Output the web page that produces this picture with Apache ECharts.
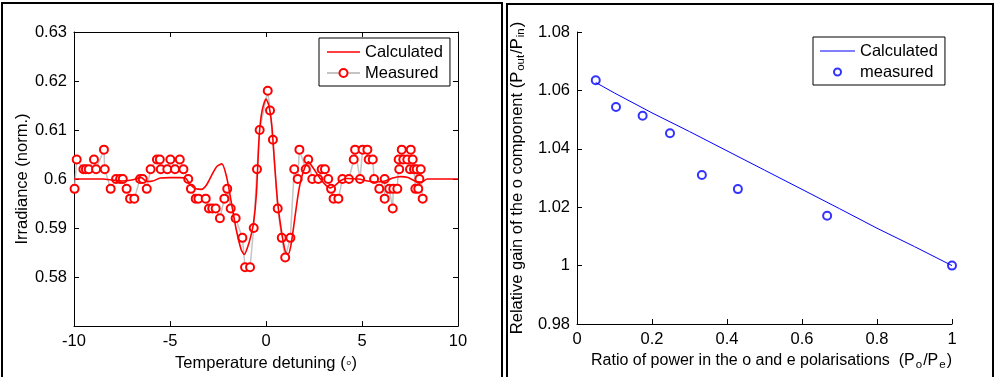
<!DOCTYPE html>
<html>
<head>
<meta charset="utf-8">
<script src="https://cdn.jsdelivr.net/npm/echarts@6/dist/echarts.min.js"></script>
<style>
html,body{margin:0;padding:0;background:#fff;}
#c{width:995px;height:377px;}
</style>
</head>
<body>
<div id="c"></div>
<script>
// ---- Left panel: irradiance vs temperature detuning ----
const measX = [-9.97,-9.86,-9.51,-9.38,-9.23,-8.96,-8.85,-8.44,-8.40,-8.09,-7.81,-7.60,-7.46,-7.26,-7.08,-6.86,-6.56,-6.42,-6.21,-6.01,-5.68,-5.53,-5.48,-5.14,-4.98,-4.74,-4.49,-4.30,-4.05,-3.91,-3.66,-3.52,-3.14,-2.97,-2.80,-2.62,-2.40,-2.17,-2.02,-1.84,-1.58,-1.23,-1.09,-0.83,-0.64,-0.47,-0.33,0.09,0.21,0.36,0.61,0.82,1.00,1.27,1.47,1.65,1.74,2.07,2.20,2.41,2.72,2.90,3.07,3.24,3.39,3.52,3.77,3.98,4.32,4.57,4.64,4.90,5.03,5.28,5.35,5.56,5.63,5.90,6.18,6.18,6.42,6.60,6.63,6.84,6.91,6.94,7.07,7.15,7.36,7.50,7.54,7.64,7.71,7.78,7.85,7.93,7.99,8.06,8.16];
const measY = [0.598,0.604,0.602,0.602,0.602,0.604,0.602,0.606,0.602,0.598,0.600,0.600,0.600,0.598,0.596,0.596,0.600,0.600,0.598,0.602,0.604,0.604,0.602,0.602,0.604,0.602,0.604,0.602,0.600,0.598,0.596,0.596,0.596,0.594,0.594,0.594,0.592,0.596,0.598,0.594,0.592,0.588,0.582,0.582,0.590,0.602,0.610,0.618,0.614,0.608,0.594,0.588,0.584,0.588,0.602,0.600,0.606,0.602,0.604,0.600,0.600,0.602,0.602,0.600,0.598,0.596,0.596,0.600,0.600,0.604,0.606,0.600,0.606,0.606,0.604,0.604,0.600,0.598,0.600,0.596,0.598,0.594,0.598,0.598,0.604,0.602,0.606,0.604,0.604,0.602,0.606,0.604,0.602,0.598,0.602,0.598,0.600,0.602,0.596];
const calcX = [-10,-9,-8.5,-8,-7.5,-7,-6.5,-6.2,-5.9,-5.5,-5,-4.5,-4.2,-3.95,-3.65,-3.36,-3.1,-2.8,-2.55,-2.3,-2.05,-1.8,-1.55,-1.3,-1.13,-0.95,-0.8,-0.65,-0.5,-0.35,-0.2,0,0.15,0.3,0.45,0.6,0.8,1.0,1.15,1.3,1.5,1.7,1.9,2.2,2.5,2.8,3.1,3.35,3.6,3.9,4.2,4.8,5.3,5.7,6.2,6.6,7.0,7.4,7.8,8.1,8.4,9,10];
const calcY = [0.6,0.6,0.6,0.5998,0.5996,0.5998,0.6003,0.5995,0.5996,0.6002,0.6003,0.6003,0.6002,0.5989,0.5980,0.5979,0.5988,0.6010,0.6026,0.6031,0.6004,0.5951,0.5897,0.5857,0.5846,0.5862,0.5882,0.5910,0.5970,0.6090,0.6140,0.6163,0.6150,0.6110,0.6030,0.5955,0.5895,0.5853,0.5846,0.5865,0.5920,0.5975,0.6010,0.6035,0.6020,0.6002,0.5988,0.5982,0.5987,0.5997,0.6001,0.6,0.5996,0.5994,0.5996,0.6002,0.6005,0.6003,0.5995,0.5994,0.6,0.6,0.6];
const leftXTicks = {min: -10, max: 10, interval: 5};
const leftYTicks = {min: 0.57, max: 0.63, interval: 0.01};

// ---- Right panel: relative gain vs power ratio ----
const ratioMeas = [0.05,0.104,0.175,0.248,0.333,0.429,0.667,1.0];
const gainMeas = [1.0635,1.0543,1.0513,1.0453,1.031,1.0262,1.0171,1.0];
const ratioCalc = [0.05,0.1,0.2,0.3,0.4,0.5,0.6,0.7,0.8,0.9,1.0];
const gainCalc = [1.0627,1.0591,1.0523,1.0459,1.0393,1.0327,1.0261,1.0195,1.0128,1.0065,1.0];
const rightXTicks = {min: 0, max: 1, interval: 0.2};
const rightYTicks = {min: 0.98, max: 1.08, interval: 0.02};

const zip = (a, b) => a.map((v, i) => [v, b[i]]);
const FONT = 'Liberation Sans, Arial, sans-serif';
const FS = 16.5;
const fmt = v => String(parseFloat(Number(v).toFixed(3)));

function axisBase(extra) {
  return Object.assign({
    type: 'value',
    axisLine: {show: true, onZero: false, lineStyle: {color: '#000', width: 1}},
    axisTick: {show: true, inside: true, length: 5, lineStyle: {color: '#000'}},
    axisLabel: {color: '#000', fontSize: FS, fontFamily: FONT, formatter: fmt, margin: 7},
    splitLine: {show: false},
    nameLocation: 'middle',
    nameTextStyle: {color: '#000', fontSize: FS, fontFamily: FONT}
  }, extra);
}

const subRich = {
  s: {fontSize: 11.5, fontFamily: FONT, color: '#000', verticalAlign: 'bottom', padding: [7, 1, 0, 1]}
};

const chart = echarts.init(document.getElementById('c'), null, {renderer: 'canvas'});
chart.setOption({
  backgroundColor: '#fff',
  animation: false,
  graphic: [
    {type: 'rect', shape: {x: 2, y: 3, width: 500, height: 420}, style: {fill: null, stroke: '#000', lineWidth: 2}, z: 100},
    {type: 'rect', shape: {x: 507, y: 4, width: 486, height: 420}, style: {fill: null, stroke: '#000', lineWidth: 2}, z: 100}
  ],
  grid: [
    {left: 74, top: 32, width: 384, height: 300},
    {left: 577, top: 32, width: 375, height: 292}
  ],
  legend: [
    {
      orient: 'vertical', left: 319, top: 38,
      padding: [5, 7, 4, 7], itemGap: 3, itemWidth: 33, itemHeight: 10,
      borderColor: '#000', borderWidth: 1, backgroundColor: '#fff',
      textStyle: {color: '#000', fontSize: FS, fontFamily: FONT, lineHeight: 18},
      data: [{name: 'Calculated', icon: 'path://M0,0h33v1.6h-33z'}, 'Measured'], selectedMode: false
    },
    {
      orient: 'vertical', left: 813, top: 37,
      padding: [5, 7, 4, 7], itemGap: 3, itemWidth: 35, itemHeight: 7,
      borderColor: '#000', borderWidth: 1, backgroundColor: '#fff',
      textStyle: {color: '#000', fontSize: FS, fontFamily: FONT, lineHeight: 18},
      data: [{name: 'Calculated2', icon: 'path://M0,0h35v1.1h-35z'}, 'measured'], selectedMode: false,
      formatter: n => n.replace('2', '')
    }
  ],
  xAxis: [
    axisBase(Object.assign({gridIndex: 0, name: 'Temperature detuning (◦)', nameGap: 25}, leftXTicks)),
    axisBase(Object.assign({gridIndex: 0, position: 'top', axisLabel: {show: false}}, leftXTicks)),
    axisBase(Object.assign({gridIndex: 1, name: 'Ratio of power in the o and e polarisations  (P{s|o}/P{s|e})', nameGap: 27,
      nameTextStyle: {color: '#000', fontSize: 16, fontFamily: FONT, rich: subRich, padding: [0, 0, 0, 14]}}, rightXTicks))
  ],
  yAxis: [
    axisBase(Object.assign({gridIndex: 0, name: 'Irradiance (norm.)', nameGap: 41,
      axisLabel: {color: '#000', fontSize: FS, fontFamily: FONT, formatter: fmt, margin: 7, showMinLabel: false}}, leftYTicks)),
    axisBase(Object.assign({gridIndex: 0, position: 'right', axisLabel: {show: false}}, leftYTicks)),
    axisBase(Object.assign({gridIndex: 1, name: 'Relative gain of the o component (P{s|out}/P{s|in})', nameGap: 50,
      nameTextStyle: {color: '#000', fontSize: FS, fontFamily: FONT, rich: subRich}}, rightYTicks))
  ],
  series: [
    {
      name: 'Measured', type: 'line', xAxisIndex: 0, yAxisIndex: 0,
      data: zip(measX, measY),
      symbol: 'emptyCircle', symbolSize: 8, showSymbol: true,
      lineStyle: {color: '#c4c4c4', width: 1.5},
      itemStyle: {color: '#ff0000', borderColor: '#ff0000', borderWidth: 1.5},
      z: 2
    },
    {
      name: 'Calculated', type: 'line', xAxisIndex: 0, yAxisIndex: 0,
      data: zip(calcX, calcY), showSymbol: false, symbol: 'none', smooth: 0.25,
      symbolKeepAspect: true,
      lineStyle: {color: '#ff0000', width: 1.6}, itemStyle: {color: '#ff0000'},
      z: 3
    },
    {
      name: 'Calculated2', type: 'line', xAxisIndex: 2, yAxisIndex: 2,
      data: zip(ratioCalc, gainCalc), showSymbol: false, symbol: 'none',
      symbolKeepAspect: true,
      lineStyle: {color: '#0000ff', width: 1}, itemStyle: {color: '#0000ff'}
    },
    {
      name: 'measured', type: 'scatter', xAxisIndex: 2, yAxisIndex: 2,
      data: zip(ratioMeas, gainMeas), symbol: 'emptyCircle', symbolSize: 8,
      itemStyle: {color: '#0000ff', borderColor: '#0000ff', borderWidth: 1.1}
    }
  ]
});
</script>
</body>
</html>
